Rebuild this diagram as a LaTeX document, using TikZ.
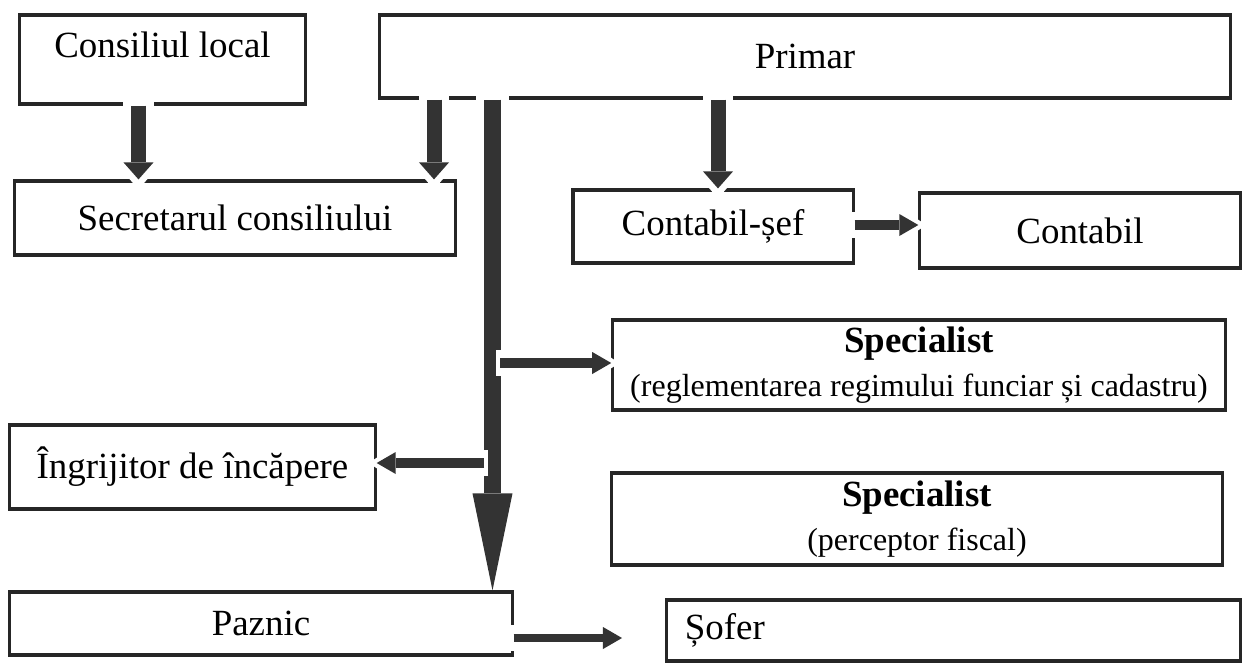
\documentclass[tikz,border=0pt]{standalone}
\usepackage{fontspec}
\setmainfont{Liberation Serif}
\usepackage{xcolor}
\colorlet{BoxBorder}{black!85}
\colorlet{ArrowBody}{black!80}
\usetikzlibrary{arrows.meta}
\newcommand\notefont{\fontsize{9.1}{11}\selectfont}

\tikzset{
  UnitBox/.style={draw=BoxBorder, line width=0.9pt, inner sep=0pt, align=center,
    font=\fontsize{10.5}{12.6}\selectfont},
  DownLink/.style={draw=ArrowBody, line width=0.15cm,
    -{Triangle[width=0.30cm, length=0.17cm, line width=0pt]},
    preaction={draw=white, line width=0.3cm, shorten <=-0.04cm, shorten >=-0.1cm,
      -{Triangle[width=0.45cm, length=0.26cm, line width=0pt]}}},
  SideLink/.style={draw=ArrowBody, line width=0.1cm,
    -{Triangle[width=0.22cm, length=0.19cm, line width=0pt]},
    preaction={draw=white, line width=0.26cm, shorten <=-0.04cm, shorten >=-0.08cm,
      -{Triangle[width=0.34cm, length=0.26cm, line width=0pt]}}},
  MainLink/.style={draw=ArrowBody, line width=0.17cm,
    -{Triangle[width=0.40cm, length=0.97cm, line width=0pt]},
    preaction={draw=white, -, line width=0.32cm, shorten <=-0.04cm, shorten >=1.2cm}}
}

\begin{document}
\begin{tikzpicture}[x=0.01cm, y=-0.01cm]

\useasboundingbox (0,0) rectangle (1245,663);

\node[UnitBox, minimum width=2.85cm, minimum height=0.89cm, text depth=0.29cm] (consiliu) at (162.5,59.5) {Consiliul local};
\node[UnitBox, minimum width=8.50cm, minimum height=0.83cm] (primar) at (805,56.5) {Primar};
\node[UnitBox, minimum width=4.40cm, minimum height=0.74cm] (secretar) at (235,218) {Secretarul consiliului};
\node[UnitBox, minimum width=2.80cm, minimum height=0.73cm] (contSef) at (713,226.5) {Contabil-șef};
\node[UnitBox, minimum width=3.20cm, minimum height=0.75cm] (contabil) at (1080,230.5) {Contabil};
\node[UnitBox, minimum width=6.12cm, minimum height=0.90cm] (specFunciar) at (919,365)
  {\textbf{Specialist}\\{\notefont (reglementarea regimului funciar și cadastru)}};
\node[UnitBox, minimum width=3.65cm, minimum height=0.84cm] (ingrijitor) at (192.5,467) {Îngrijitor de încăpere};
\node[UnitBox, minimum width=6.10cm, minimum height=0.92cm] (specFiscal) at (917,519)
  {\textbf{Specialist}\\{\notefont (perceptor fiscal)}};
\node[UnitBox, minimum width=5.02cm, minimum height=0.63cm] (paznic) at (261,623.5) {Paznic};
\node[UnitBox, minimum width=5.73cm, minimum height=0.61cm, text width=5.37cm,
  inner xsep=0.18cm, align=left] (sofer) at (953.5,630.5) {Șofer};

\coordinate (xCons) at (138.5,0);
\coordinate (xSec) at (434,0);
\coordinate (xMain) at (492.5,0);
\coordinate (xCont) at (718,0);
\coordinate (yCont) at (0,225);
\coordinate (yPaz) at (0,638);
\coordinate (branchR) at (500,363);
\coordinate (branchL) at (484,463);
\coordinate (soferTip) at (622,638);

% Las flechas van despues de las cajas, asi el borde blanco
% abre un hueco en las lineas que tocan.
\draw[MainLink] (primar.south -| xMain) -- (paznic.north -| xMain);
\draw[DownLink] (consiliu.south -| xCons) -- (secretar.north -| xCons);
\draw[DownLink] (primar.south -| xSec) -- (secretar.north -| xSec);
\draw[DownLink] (primar.south -| xCont) -- (contSef.north -| xCont);
\draw[SideLink] (branchR) -- (specFunciar.west |- branchR);
\draw[SideLink] (branchL) -- (ingrijitor.east |- branchL);
\draw[SideLink] (contSef.east |- yCont) -- (contabil.west |- yCont);
\draw[SideLink, line width=0.08cm] (paznic.east |- yPaz) -- (soferTip);

\end{tikzpicture}
\end{document}
